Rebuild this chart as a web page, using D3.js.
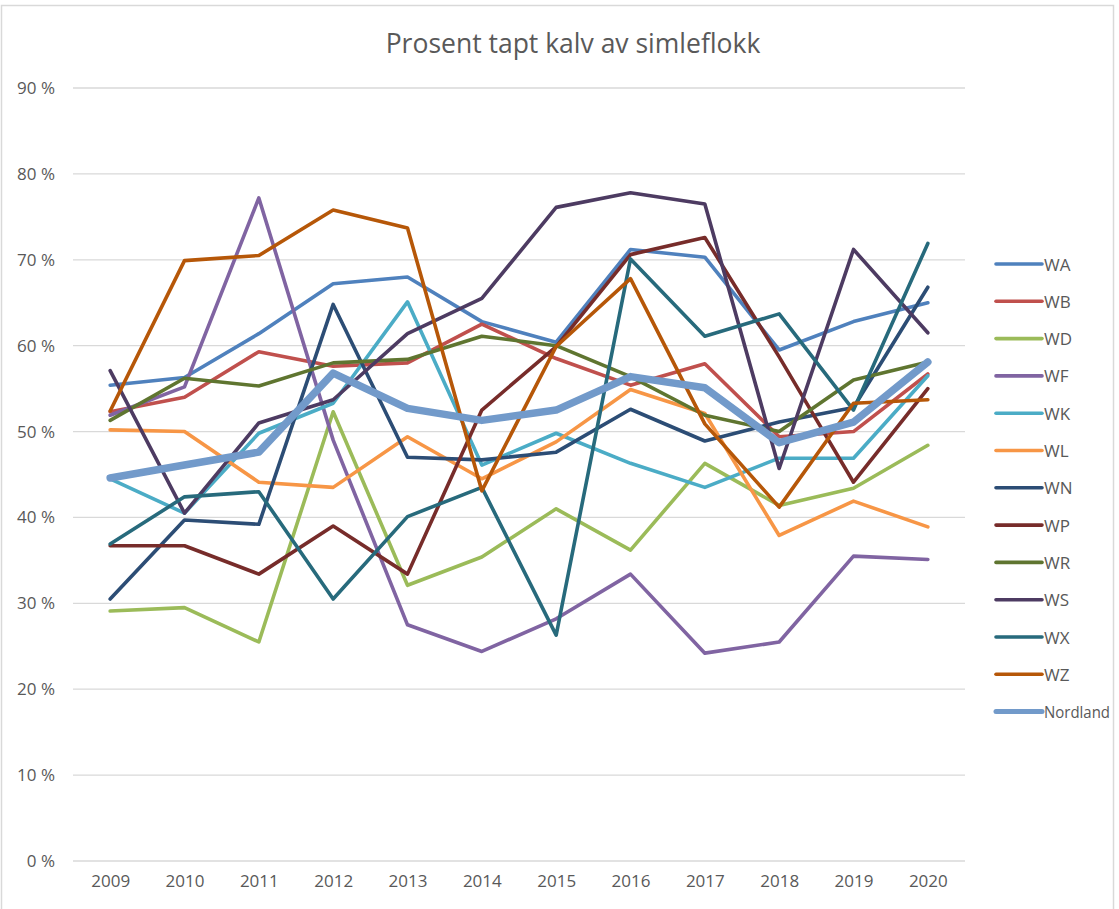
<!DOCTYPE html>
<html>
<head>
<meta charset="utf-8">
<script src="https://cdn.jsdelivr.net/npm/d3@7"></script>
<style>
  body { margin: 0; background: #fff; }
  text { font-family: "Open Sans", "Noto Sans", sans-serif; fill: #595959; }
</style>
</head>
<body>
<div id="chart"></div>
<script>
// years along the x axis
const years = ["2009", "2010", "2011", "2012", "2013", "2014", "2015", "2016", "2017", "2018", "2019", "2020"];

// percent lost calves
const WA = [55.4, 56.3, 61.4, 67.2, 68.0, 62.8, 60.4, 71.2, 70.3, 59.5, 62.8, 65.0];
const WB = [52.3, 54.0, 59.3, 57.6, 58.0, 62.5, 58.5, 55.4, 57.9, 49.4, 50.0, 56.7];
const WD = [29.1, 29.5, 25.5, 52.3, 32.1, 35.4, 41.0, 36.2, 46.3, 41.4, 43.4, 48.4];
const WF = [51.9, 55.2, 77.2, 49.0, 27.5, 24.4, 28.2, 33.4, 24.2, 25.5, 35.5, 35.1];
const WK = [44.5, 40.5, 49.8, 53.3, 65.1, 46.1, 49.8, 46.3, 43.5, 46.9, 46.9, 56.5];
const WL = [50.2, 50.0, 44.1, 43.5, 49.4, 44.5, 48.8, 54.9, 52.1, 37.9, 41.9, 38.9];
const WN = [30.5, 39.7, 39.2, 64.8, 47.0, 46.7, 47.6, 52.6, 48.9, 51.1, 52.8, 66.8];
const WP = [36.7, 36.7, 33.4, 39.0, 33.4, 52.5, 59.9, 70.6, 72.6, 58.7, 44.1, 55.0];
const WR = [51.3, 56.2, 55.3, 58.0, 58.4, 61.1, 60.0, 56.4, 51.9, 50.0, 56.0, 58.1];
const WS = [57.1, 40.5, 51.0, 53.7, 61.4, 65.5, 76.1, 77.8, 76.5, 45.7, 71.2, 61.5];
const WX = [36.9, 42.4, 43.0, 30.5, 40.1, 43.5, 26.3, 70.1, 61.1, 63.7, 52.5, 71.9];
const WZ = [52.4, 69.9, 70.5, 75.8, 73.7, 43.1, 59.9, 67.8, 50.9, 41.2, 53.3, 53.7];
const Nordland = [44.6, 46.1, 47.6, 56.8, 52.7, 51.3, 52.5, 56.4, 55.1, 48.7, 51.1, 58.1];

const yTicks = [0, 10, 20, 30, 40, 50, 60, 70, 80, 90];

const seriesNames = ["WA", "WB", "WD", "WF", "WK", "WL", "WN", "WP", "WR", "WS", "WX", "WZ", "Nordland"];
const seriesValues = [WA, WB, WD, WF, WK, WL, WN, WP, WR, WS, WX, WZ, Nordland];
const seriesColors = ["#4f81bd", "#c0504d", "#9bbb59", "#8064a2", "#4bacc6", "#f79646",
  "#2c4d75", "#772c2a", "#5f7530", "#4d3b62", "#276a7c", "#b65708", "#729aca"];

const svgWidth = 1119;
const svgHeight = 909;

const svg = d3.select("#chart")
  .append("svg")
  .attr("width", svgWidth)
  .attr("height", svgHeight);

const chartGroup = svg.append("g");

// scales
const xScale = d3.scalePoint()
  .domain(years)
  .range([73, 965])
  .padding(0.5);

const yScale = d3.scaleLinear()
  .domain([0, 90])
  .range([861, 88]);

// gridlines
chartGroup.append("g")
  .selectAll("line")
  .data(yTicks)
  .enter()
  .append("line")
  .attr("x1", 73)
  .attr("x2", 965)
  .attr("y1", d => yScale(d))
  .attr("y2", d => yScale(d))
  .attr("stroke", "#d9d9d9")
  .attr("stroke-width", 1.3);

// y axis labels
const leftAxis = d3.axisLeft(yScale)
  .tickValues(yTicks)
  .tickSize(0)
  .tickPadding(0)
  .tickFormat(d => `${d} %`);

const yAxis = chartGroup.append("g")
  .attr("transform", "translate(55, 0)")
  .call(leftAxis);
yAxis.select(".domain").remove();
yAxis.selectAll("text")
  .attr("font-size", 17)
  .attr("fill", "#595959")
  .style("font-family", "'Open Sans', sans-serif");

// x axis labels
const bottomAxis = d3.axisBottom(xScale).tickSize(0).tickPadding(0);
const xAxis = chartGroup.append("g")
  .attr("transform", "translate(0, 875)")
  .call(bottomAxis);
xAxis.select(".domain").remove();
xAxis.selectAll("text")
  .attr("font-size", 17)
  .attr("fill", "#595959")
  .style("font-family", "'Open Sans', sans-serif");

// title
chartGroup.append("text")
  .attr("x", 573)
  .attr("y", 53)
  .attr("text-anchor", "middle")
  .attr("font-size", 26.5)
  .text("Prosent tapt kalv av simleflokk");

// lines
const line = d3.line()
  .x((d, i) => xScale(years[i]))
  .y(d => yScale(d));

chartGroup.append("g")
  .selectAll("path")
  .data(seriesValues)
  .enter()
  .append("path")
  .attr("d", d => line(d))
  .attr("fill", "none")
  .attr("stroke", (d, i) => seriesColors[i])
  .attr("stroke-width", (d, i) => seriesNames[i] === "Nordland" ? 7.5 : 3.6)
  .attr("stroke-linejoin", "round")
  .attr("stroke-linecap", "round");

// legend
const legend = chartGroup.append("g")
  .selectAll("g")
  .data(seriesNames)
  .enter()
  .append("g")
  .attr("transform", (d, i) => `translate(996, ${264 + i * 37.3})`);

legend.append("line")
  .attr("x1", 0)
  .attr("x2", 46)
  .attr("stroke", (d, i) => seriesColors[i])
  .attr("stroke-width", (d, i) => d === "Nordland" ? 5 : 3.6)
  .attr("stroke-linecap", "round");

legend.append("text")
  .attr("x", 48)
  .attr("y", 6.5)
  .attr("font-size", 17)
  .attr("textLength", d => d === "Nordland" ? 66 : null)
  .attr("lengthAdjust", "spacingAndGlyphs")
  .text(d => d);

// outer frame
svg.append("rect")
  .attr("x", 1.5).attr("y", 5.5)
  .attr("width", 1112).attr("height", 920)
  .attr("fill", "none")
  .attr("stroke", "#d9d9d9")
  .attr("stroke-width", 1.5);
</script>
</body>
</html>
